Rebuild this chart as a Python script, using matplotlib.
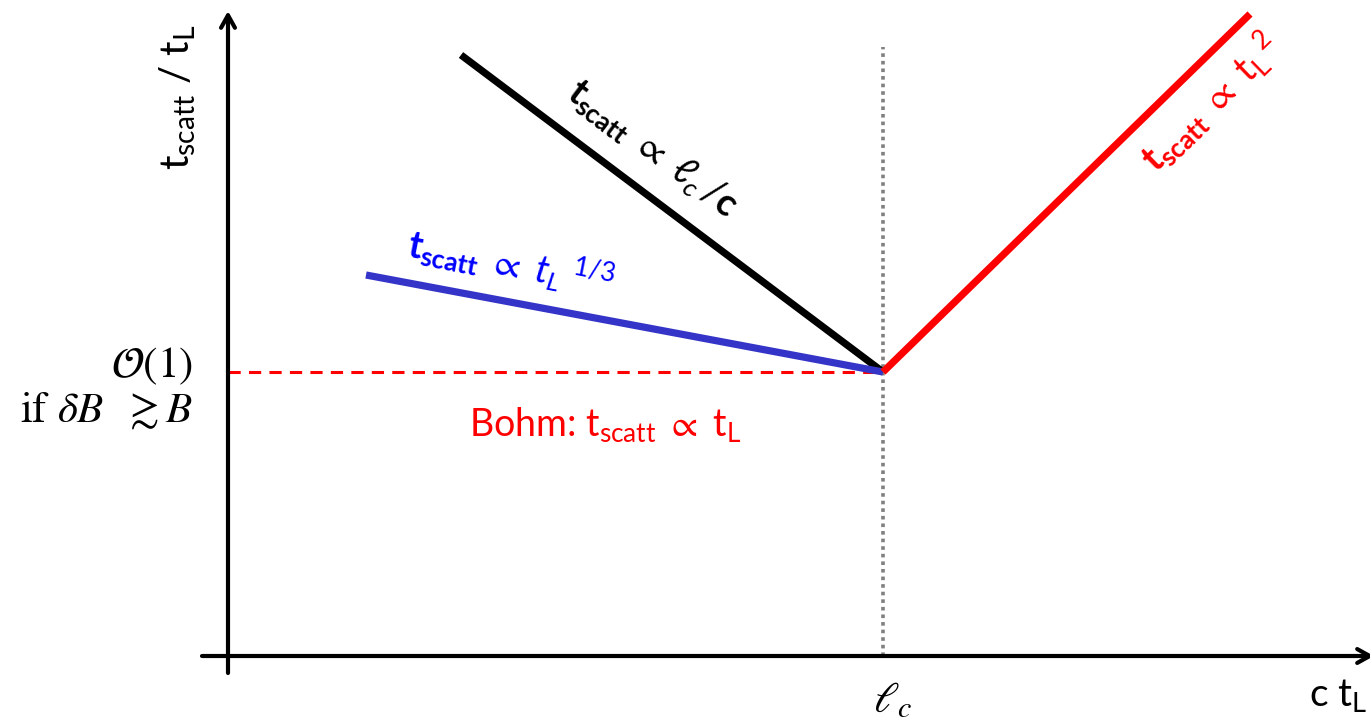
import matplotlib
matplotlib.use("Agg")
import matplotlib.pyplot as plt

plt.rcParams['font.family'] = ['Lato', 'DejaVu Sans']
plt.rcParams['mathtext.fontset'] = 'custom'
plt.rcParams['mathtext.rm'] = 'Lato'
plt.rcParams['mathtext.it'] = 'Lato:italic'
plt.rcParams['mathtext.bf'] = 'Lato:bold'
plt.rcParams['mathtext.sf'] = 'Lato'
plt.rcParams['mathtext.fallback'] = 'stix'

# schematic coordinates, origin at the axis crossing
l_c = 655          # coherence length position on the c t_L axis
y_bohm = 284       # O(1) level (Bohm regime)
black_x = [233, l_c]
black_y = [601, y_bohm]
blue_x = [138, l_c]
blue_y = [381, y_bohm]
red_x = [l_c, 1022]
red_y = [y_bohm, 642]
dotted_top = 609

fig = plt.figure(figsize=(13.7, 7.23), dpi=100)
ax = fig.add_axes([0, 0, 1, 1])
ax.set_xlim(-228, 1142)
ax.set_ylim(-67, 656)
ax.axis('off')

# axes with open arrow heads
arr = dict(arrowstyle='->,head_length=0.9,head_width=0.5', lw=3, color='black',
           shrinkA=0, shrinkB=0)
ax.annotate('', xy=(0, 645), xytext=(0, -17), arrowprops=arr, annotation_clip=False)
ax.annotate('', xy=(1146, 0), xytext=(-26, 0), arrowprops=arr, annotation_clip=False)

# reference lines
ax.plot([0, l_c - 5], [y_bohm, y_bohm], color='#ff0000', lw=2.2, ls=(0, (4, 2.7)))
ax.plot([l_c, l_c], [0, dotted_top], color='#808080', lw=2.6, ls=(0, (1, 1.1)))

# scaling regimes
ax.plot(black_x, black_y, color='black', lw=5.2, solid_capstyle='butt')
ax.plot(blue_x, blue_y, color='#3434c8', lw=5.2, solid_capstyle='butt')
ax.plot(red_x, red_y, color='#ff0000', lw=5.2, solid_capstyle='butt')

# labels
ax.text(-50, 559, r"t$_{\rm scatt}$ / t$_{\rm L}$", rotation=90, fontsize=29,
        ha='center', va='center')
ax.text(-35, 290, r"$\mathcal{O}(1)$", fontsize=31, ha='right', va='center',
        math_fontfamily='stix')
ax.text(-35, 245, r"if $\delta B\ \ \gtrsim B$", fontsize=31, ha='right', va='center',
        family='STIXGeneral', math_fontfamily='stix')

ax.text(425, 507, r"$\mathbf{t}_{\mathbf{scatt}}\ \propto\ \ell_c\,/\mathbf{c}$",
        rotation=-37, fontsize=27, ha='center', va='center', rotation_mode='anchor')
ax.text(283, 393, r"$\mathbf{t}_{\mathbf{scatt}}\ \propto\ t_L\ ^{1/3}$",
        rotation=-11, fontsize=27, ha='center', va='center', rotation_mode='anchor',
        color='#0000ff')
ax.text(982, 554, r"$\mathbf{t}_{\mathbf{scatt}}\ \propto\ \mathrm{t}_{\mathrm{L}}{}^{\,2}$",
        rotation=44, fontsize=27, ha='center', va='center', rotation_mode='anchor',
        color='#ff0000')
ax.text(377, 231, r"Bohm: t$_{\rm scatt}$ $\propto$ t$_{\rm L}$", fontsize=27,
        ha='center', va='center', color='#ff0000')

ax.text(665, -44, r"$\ell_c$", fontsize=31, ha='center', va='center',
        math_fontfamily='stix')
ax.text(1110, -40, r"c t$_{\rm L}$", fontsize=28, ha='center', va='center')

fig.savefig('out.png', dpi=100)
